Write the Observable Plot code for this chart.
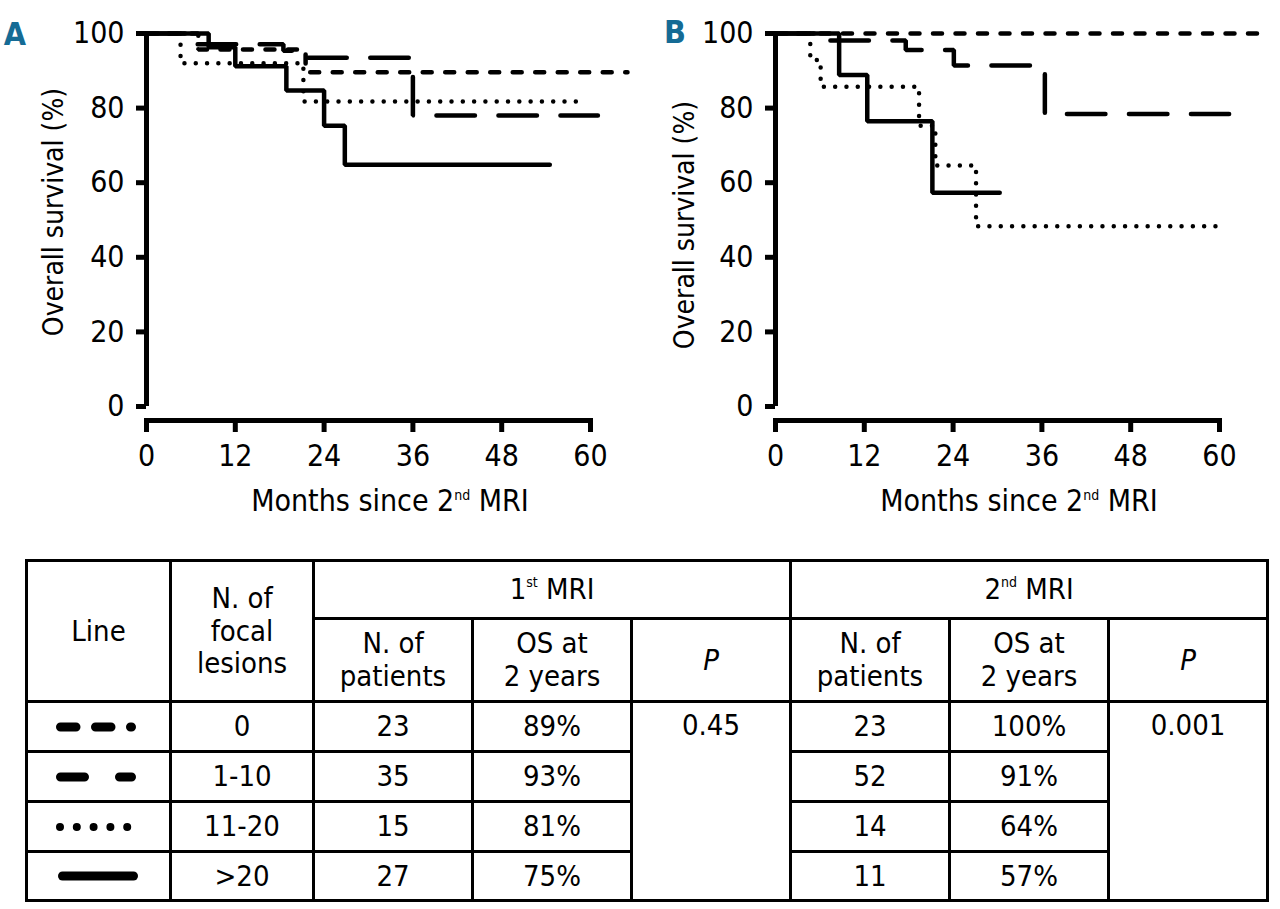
<!DOCTYPE html>
<html>
<head>
<meta charset="utf-8">
<script src="https://cdn.jsdelivr.net/npm/d3@7"></script>
<script src="https://cdn.jsdelivr.net/npm/@observablehq/plot@0.6"></script>
<style>
  html, body { margin: 0; padding: 0; background: #fff; }
  body { font-family: "Liberation Sans Narrow", "DejaVu Sans Condensed", "Roboto", sans-serif; color: #000; }
  #wrap { position: relative; width: 1280px; height: 909px; overflow: hidden; }
  #charts { position: absolute; left: 0; top: 0; display: flex; }
  #charts svg { display: block; overflow: visible; }
  table.t { position: absolute; left: 25px; top: 559px; border-collapse: collapse; table-layout: fixed;
            font-size: 29px; line-height: 1.13; }
  table.t td { border: 3px solid #000; text-align: center; vertical-align: middle; padding: 0; font-weight: normal; }
  table.t td.ptop { vertical-align: top; padding-top: 6px; }
  sup { font-size: 14px; vertical-align: 12px; line-height: 0; }
</style>
</head>
<body>
<div id="wrap">
  <div id="charts"></div>
  <table class="t" id="tbl"></table>
</div>
<script>
// ---------------- DATA ----------------
const months = [0, 12, 24, 36, 48, 60];
const pctTicks = [0, 20, 40, 60, 80, 100];
const groups = ["0", "1-10", "11-20", ">20"];

// Panel A (groups by number of focal lesions at 1st MRI) : step points (months, % survival)
const aTime_0     = [0, 7, 21.5, 65];
const aSurv_0     = [100, 95.7, 89.6, 89.6];
const aTime_1to10 = [0, 6.5, 18.5, 21, 36, 61];
const aSurv_1to10 = [100, 97.1, 95.4, 93.5, 78, 78];
const aTime_11to20 = [0, 4.6, 21.2, 59.2];
const aSurv_11to20 = [100, 92, 81.8, 81.8];
const aTime_gt20  = [0, 8.4, 12, 18.9, 24, 26.8, 54.5];
const aSurv_gt20  = [100, 96.3, 91.2, 84.7, 75.3, 64.8, 64.8];

// Panel B (groups by number of focal lesions at 2nd MRI)
const bTime_0     = [0, 65.5];
const bSurv_0     = [100, 100];
const bTime_1to10 = [0, 7.2, 17.6, 24.1, 36.4, 61.3];
const bSurv_1to10 = [100, 98.1, 95.6, 91.4, 78.4, 78.4];
const bTime_11to20 = [0, 4.7, 6.1, 19.4, 21.6, 27.1, 59.7];
const bSurv_11to20 = [100, 92.9, 85.7, 75.3, 64.6, 48.3, 48.3];
const bTime_gt20  = [0, 8.6, 12.4, 21.2, 30.3];
const bSurv_gt20  = [100, 88.9, 76.5, 57.3, 57.3];

// Table values
const n1  = [23, 35, 15, 27];
const os1 = ["89%", "93%", "81%", "75%"];
const p1  = "0.45";
const n2  = [23, 52, 14, 11];
const os2 = ["100%", "91%", "64%", "57%"];
const p2  = "0.001";

// ---------------- STYLES ----------------
const FONT = '"Liberation Sans Narrow", "DejaVu Sans Condensed", "Roboto", sans-serif';
const lineDash = { "0": "9 13.5", "1-10": "38.5 23.5", "11-20": "0 11.3", ">20": null };
const legendStyle = {
  "0":     { dash: "15.5 19.5", w: 9, x1: 32.5, x2: 103.5 },
  "1-10":  { dash: "24 35",     w: 9, x1: 32.5, x2: 103.5 },
  "11-20": { dash: "0 16.8",    w: 8, x1: 32,   x2: 99.5 },
  ">20":   { dash: null,        w: 9, x1: 34.5, x2: 105.5 }
};

function series(times, survs, group) {
  return times.map((t, i) => ({ group, t, s: survs[i] }));
}
const dataA = [
  ...series(aTime_0, aSurv_0, "0"),
  ...series(aTime_1to10, aSurv_1to10, "1-10"),
  ...series(aTime_11to20, aSurv_11to20, "11-20"),
  ...series(aTime_gt20, aSurv_gt20, ">20")
];
const dataB = [
  ...series(bTime_0, bSurv_0, "0"),
  ...series(bTime_1to10, bSurv_1to10, "1-10"),
  ...series(bTime_11to20, bSurv_11to20, "11-20"),
  ...series(bTime_gt20, bSurv_gt20, ">20")
];

function makePanel(data, cfg) {
  const plot = Plot.plot({
    width: 640, height: 530,
    marginLeft: cfg.marginLeft, marginRight: cfg.marginRight, marginTop: 33, marginBottom: 110,
    x: { domain: [d3.min(months), d3.max(months)] },
    y: { domain: [d3.min(pctTicks), d3.max(pctTicks)], insetBottom: 14 },
    style: { fontFamily: FONT, fontSize: "30px", color: "#000", background: "transparent", overflow: "visible" },
    marks: [
      ...groups.map(g => Plot.line(data.filter(d => d.group === g), {
        x: "t", y: "s", curve: "step-after", stroke: "#000", strokeWidth: 4.5,
        strokeDasharray: lineDash[g] || undefined, strokeLinecap: "round", strokeLinejoin: "miter"
      })),
      Plot.ruleX([d3.min(months)], { y1: d3.min(pctTicks), y2: d3.max(pctTicks), stroke: "#000", strokeWidth: 5 }),
      Plot.frame({ anchor: "bottom", stroke: "#000", strokeWidth: 5 }),
      Plot.axisY({ ticks: pctTicks, tickSize: 10, tickPadding: 12, strokeWidth: 5, label: null, fontSize: 30 }),
      Plot.axisX({ ticks: months, tickSize: 12, tickPadding: 12, strokeWidth: 5, label: null, fontSize: 30 })
    ]
  });
  const sx = plot.scale("x");
  const g = d3.select(plot);
  const cx = (sx.apply(d3.min(months)) + sx.apply(d3.max(months))) / 2 + 22;
  const t = g.append("text").attr("x", cx).attr("y", 511).attr("text-anchor", "middle")
    .attr("font-size", 30).attr("font-family", FONT).attr("fill", "#000");
  t.append("tspan").text("Months since 2");
  t.append("tspan").attr("dy", -11).attr("font-size", 14).text("nd");
  t.append("tspan").attr("dy", 11).text("\u00a0MRI");
  g.append("text")
    .attr("transform", `translate(${cfg.yTitleX},${cfg.yTitleY}) rotate(-90)`)
    .attr("text-anchor", "middle").attr("dy", "0.35em")
    .attr("font-size", 28).attr("font-family", FONT).attr("fill", "#000")
    .text("Overall survival (%)");
  g.append("text").attr("x", cfg.letterX).attr("y", cfg.letterY).attr("text-anchor", "middle")
    .attr("font-size", 32).attr("font-weight", "bold").attr("font-family", FONT)
    .attr("fill", "#156b95").text(cfg.letter);
  return plot;
}

const charts = document.getElementById("charts");
charts.append(makePanel(dataA, { marginLeft: 146, marginRight: 50, yTitleX: 53, yTitleY: 212, letter: "A", letterX: 15, letterY: 45 }));
charts.append(makePanel(dataB, { marginLeft: 135, marginRight: 61, yTitleX: 44, yTitleY: 225, letter: "B", letterX: 35, letterY: 43 }));

// ---------------- TABLE ----------------
const colW = [144, 143, 159, 159, 159, 159, 159, 159];
const tbl = document.getElementById("tbl");
let html = "<colgroup>" + colW.map(w => `<col style="width:${w}px">`).join("") + "</colgroup>";
html += `<tr style="height:58px"><td rowspan="2">Line</td><td rowspan="2">N. of<br>focal<br>lesions</td>` +
        `<td colspan="3">1<sup>st</sup> MRI</td><td colspan="3">2<sup>nd</sup> MRI</td></tr>`;
html += `<tr style="height:83px"><td>N. of<br>patients</td><td>OS at<br>2 years</td><td><i>P</i></td>` +
        `<td>N. of<br>patients</td><td>OS at<br>2 years</td><td><i>P</i></td></tr>`;
groups.forEach((g, i) => {
  const ls = legendStyle[g];
  const svg = `<svg width="140" height="20" style="display:block;margin:0 auto 0 0"><line x1="${ls.x1}" x2="${ls.x2}" y1="10" y2="10" stroke="#000" stroke-width="${ls.w}" stroke-linecap="round"${ls.dash ? ` stroke-dasharray="${ls.dash}"` : ""}/></svg>`;
  html += `<tr style="height:${i === 3 ? 49 : 50}px"><td>${svg}</td><td>${g}</td><td>${n1[i]}</td><td>${os1[i]}</td>` +
          (i === 0 ? `<td rowspan="4" class="ptop">${p1}</td>` : "") +
          `<td>${n2[i]}</td><td>${os2[i]}</td>` +
          (i === 0 ? `<td rowspan="4" class="ptop">${p2}</td>` : "") + `</tr>`;
});
tbl.innerHTML = html;
</script>
</body>
</html>
